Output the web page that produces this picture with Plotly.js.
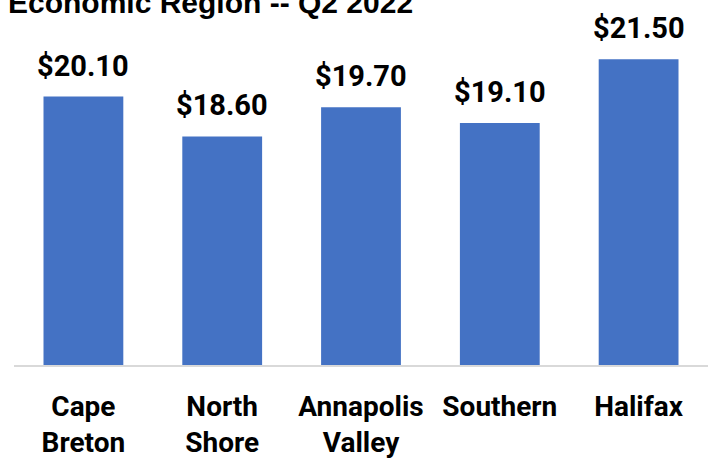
<!DOCTYPE html>
<html>
<head>
<meta charset="utf-8">
<script src="https://cdn.plot.ly/plotly-3.0.1.min.js"></script>
<style>html,body{margin:0;padding:0;background:#fff;}#chart{width:711px;height:459px;}</style>
</head>
<body>
<div id="chart"></div>
<script>
const categories = ["Cape<br>Breton", "North<br>Shore", "Annapolis<br>Valley", "Southern", "Halifax"];
const wages = [20.10, 18.60, 19.70, 19.10, 21.50];
const labels = wages.map(v => "$" + v.toFixed(2));
const titleText = "Economic Region -- Q2 2022";

const trace = {
  type: "bar",
  x: categories,
  y: wages,
  marker: {color: "#4472C4", line: {width: 0}},
  hoverinfo: "skip"
};

const annotations = categories.map((c, i) => ({
  x: c, y: wages[i], xref: "x", yref: "y",
  text: labels[i], showarrow: false,
  yanchor: "bottom", yshift: 12,
  font: {family: "Roboto, sans-serif", size: 29, color: "#000", weight: 700}
}));

const layout = {
  width: 711, height: 459,
  margin: {l: 14, r: 3, t: 46, b: 94, pad: 0},
  paper_bgcolor: "#fff", plot_bgcolor: "#fff",
  showlegend: false,
  bargap: 0.425,
  title: {
    text: titleText,
    font: {family: "Liberation Sans, Arial, sans-serif", size: 30, color: "#000", weight: 700},
    x: 8/711, xanchor: "left", xref: "container",
    y: 1 - 2/459, yanchor: "middle", yref: "container"
  },
  xaxis: {
    type: "category",
    showline: true, linecolor: "#d9d9d9", linewidth: 2,
    ticks: "", showgrid: false, zeroline: false,
    tickfont: {family: "Roboto, sans-serif", size: 28, color: "#000", weight: 700},
    ticklabelstandoff: 15,
    fixedrange: true
  },
  yaxis: {
    range: [10, 22], visible: false, showgrid: false, zeroline: false, fixedrange: true
  },
  annotations: annotations
};

Plotly.newPlot("chart", [trace], layout, {displayModeBar: false, staticPlot: true});
</script>
</body>
</html>
